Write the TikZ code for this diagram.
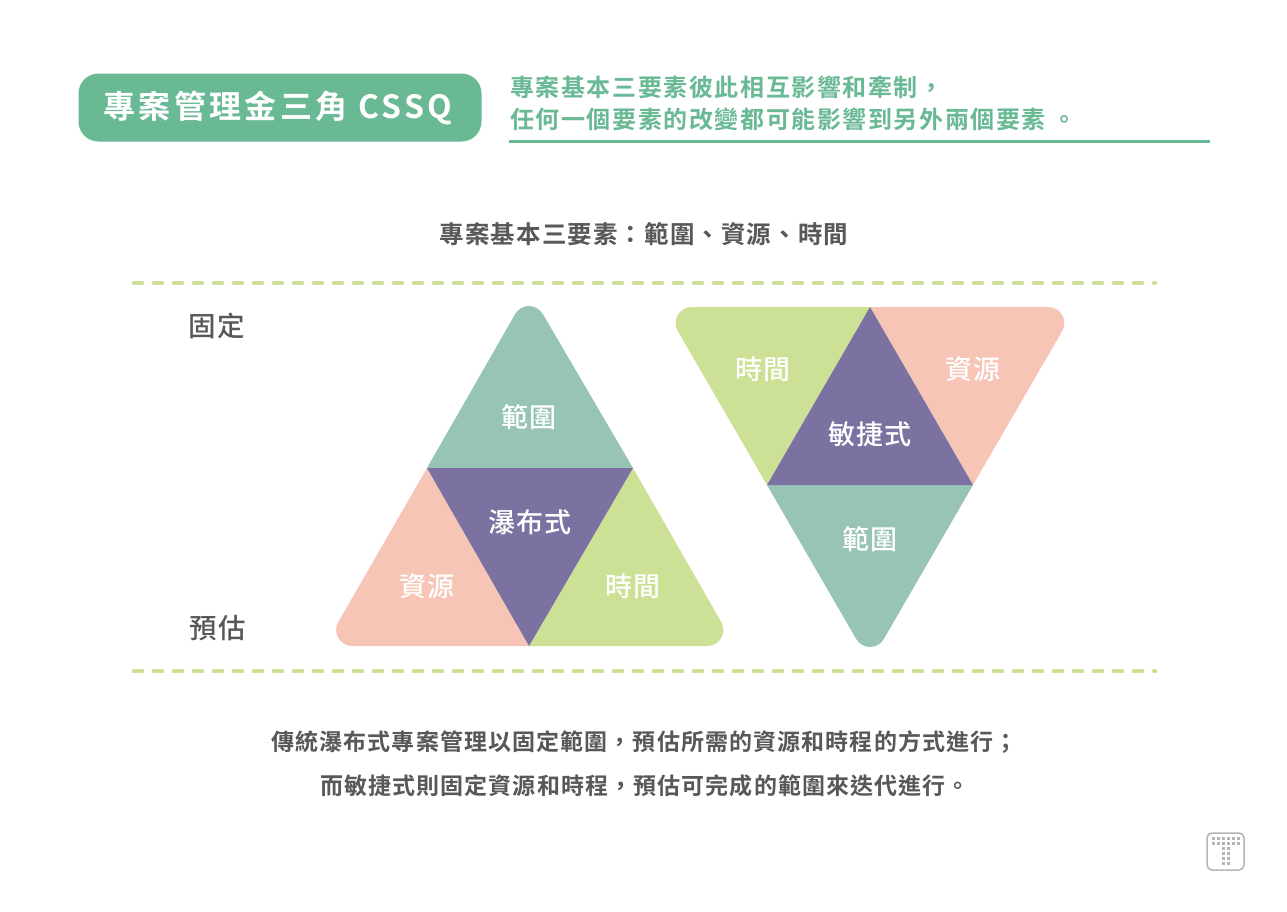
\documentclass[tikz,border=0pt]{standalone}
\usepackage{fontspec}
\setmainfont{Noto Sans CJK TC}
\newfontfamily\lbl[LetterSpace=4]{Noto Sans CJK TC Medium}
\newfontfamily\hdr[LetterSpace=4.5]{Noto Sans CJK TC Bold}
\newfontfamily\bdy[LetterSpace=4.8]{Noto Sans CJK TC Bold}
\newfontfamily\sub[LetterSpace=6.6]{Noto Sans CJK TC Bold}
\newfontfamily\ttl[LetterSpace=10.5]{Noto Sans CJK TC Bold}
\definecolor{grn}{HTML}{69B995}
\definecolor{lime}{HTML}{CCE096}
\definecolor{teal2}{HTML}{98C4B8}
\definecolor{pink2}{HTML}{F6C5B6}
\definecolor{purp}{HTML}{7B72A2}
\definecolor{txt}{HTML}{595757}
\definecolor{icon}{HTML}{B5B5B6}
\tikzset{
  dashline/.style={lime,line width=4.5pt,line cap=round,dash pattern=on 8pt off 12pt},
  seglabel/.style={text=white,font=\fontsize{27}{27}\selectfont\lbl,inner sep=0pt},
  sidelabel/.style={text=txt,font=\fontsize{27.5}{27.5}\selectfont\lbl,inner sep=0pt},
  body/.style={text=txt,font=\fontsize{23}{23}\selectfont\bdy,inner sep=0pt},
  subline/.style={text=grn,font=\fontsize{24}{24}\selectfont\sub,inner sep=0pt,anchor=west},
  dot/.style={icon}
}
\begin{document}
\begin{tikzpicture}[x=1pt,y=-1pt]
\useasboundingbox (0,0) rectangle (1287,911);
\fill[white] (0,0) rectangle (1287,911);
% title
\node[fill=grn,rounded corners=20pt,minimum width=403pt,minimum height=68pt,inner sep=0pt,anchor=center] (titlebox) at (280,107.5) {};
\node[text=white,font=\fontsize{32}{32}\selectfont\ttl,inner sep=0pt] (title) at (278,108) {專案管理金三角 CSSQ};
\node[subline] (sub1) at (510,87) {專案基本三要素彼此相互影響和牽制，};
\node[subline] (sub2) at (510,119) {任何一個要素的改變都可能影響到另外兩個要素 。};
\coordinate (ruleL) at (509,141); \coordinate (ruleR) at (1210,141);
\draw[grn,line width=3pt] (ruleL) -- (ruleR);
\node[text=txt,font=\fontsize{24.5}{24.5}\selectfont\hdr,inner sep=0pt] (head) at (644,234) {專案基本三要素：範圍、資源、時間};
% dashes
\coordinate (d1L) at (134,283); \coordinate (d1R) at (1155,283);
\coordinate (d2L) at (134,671); \coordinate (d2R) at (1155,671);
\draw[dashline] (d1L) -- (d1R);
\draw[dashline] (d2L) -- (d2R);
\node[sidelabel] (fix) at (217,325.5) {固定};
\node[sidelabel] (est) at (218,628) {預估};
% up triangle
\fill[teal2] (427,468) -- (515.2,314) .. controls (521.35,303.4) and (536.65,303.4) .. (542.8,314) -- (633,468) -- cycle;
\fill[pink2] (427,468) -- (338.3,622) .. controls (332.15,632.6) and (339.9,646) .. (352.2,646) -- (529,646) -- cycle;
\fill[lime] (633,468) -- (721.2,622) .. controls (727.35,632.6) and (719.6,646) .. (707.3,646) -- (529,646) -- cycle;
\fill[purp] (427,468) -- (633,468) -- (529,646) -- cycle;
\node[seglabel] (u1) at (529,417.5) {範圍};
\node[seglabel] (u2) at (530,522.5) {瀑布式};
\node[seglabel] (u3) at (427,586.5) {資源};
\node[seglabel] (u4) at (633,586.5) {時間};
% down triangle
\fill[lime] (870,307) -- (691.7,307) .. controls (679.4,307) and (671.65,320.4) .. (677.8,331) -- (767,485) -- cycle;
\fill[pink2] (870,307) -- (1048.3,307) .. controls (1060.6,307) and (1068.35,320.4) .. (1062.2,331) -- (973,485) -- cycle;
\fill[teal2] (767,485) -- (856.2,639) .. controls (862.35,649.6) and (877.65,649.6) .. (883.8,639) -- (973,485) -- cycle;
\fill[purp] (870,307) -- (973,485) -- (767,485) -- cycle;
\node[seglabel] (d1) at (763,369.5) {時間};
\node[seglabel] (d2) at (870,434.5) {敏捷式};
\node[seglabel] (d3) at (973,369.5) {資源};
\node[seglabel] (d4) at (870,539.5) {範圍};
% body
\node[body] (b1) at (644.5,742.5) {傳統瀑布式專案管理以固定範圍，預估所需的資源和時程的方式進行；};
\node[body] (b2) at (645,785.5) {而敏捷式則固定資源和時程，預估可完成的範圍來迭代進行。};
% icon
\draw[icon,line width=1.5pt,rounded corners=5pt] (1207,833) rectangle (1244,870);
\foreach \x in {1212,1217,1222,1227,1232,1237}{
  \fill[dot] (\x,837) rectangle ++(3,3);
  \fill[dot] (\x,842) rectangle ++(3,3);
}
\foreach \x in {1222,1227}{
  \foreach \y in {847,852,857,862}{
    \fill[dot] (\x,\y) rectangle ++(3,3);
  }
}
\end{tikzpicture}
\end{document}
